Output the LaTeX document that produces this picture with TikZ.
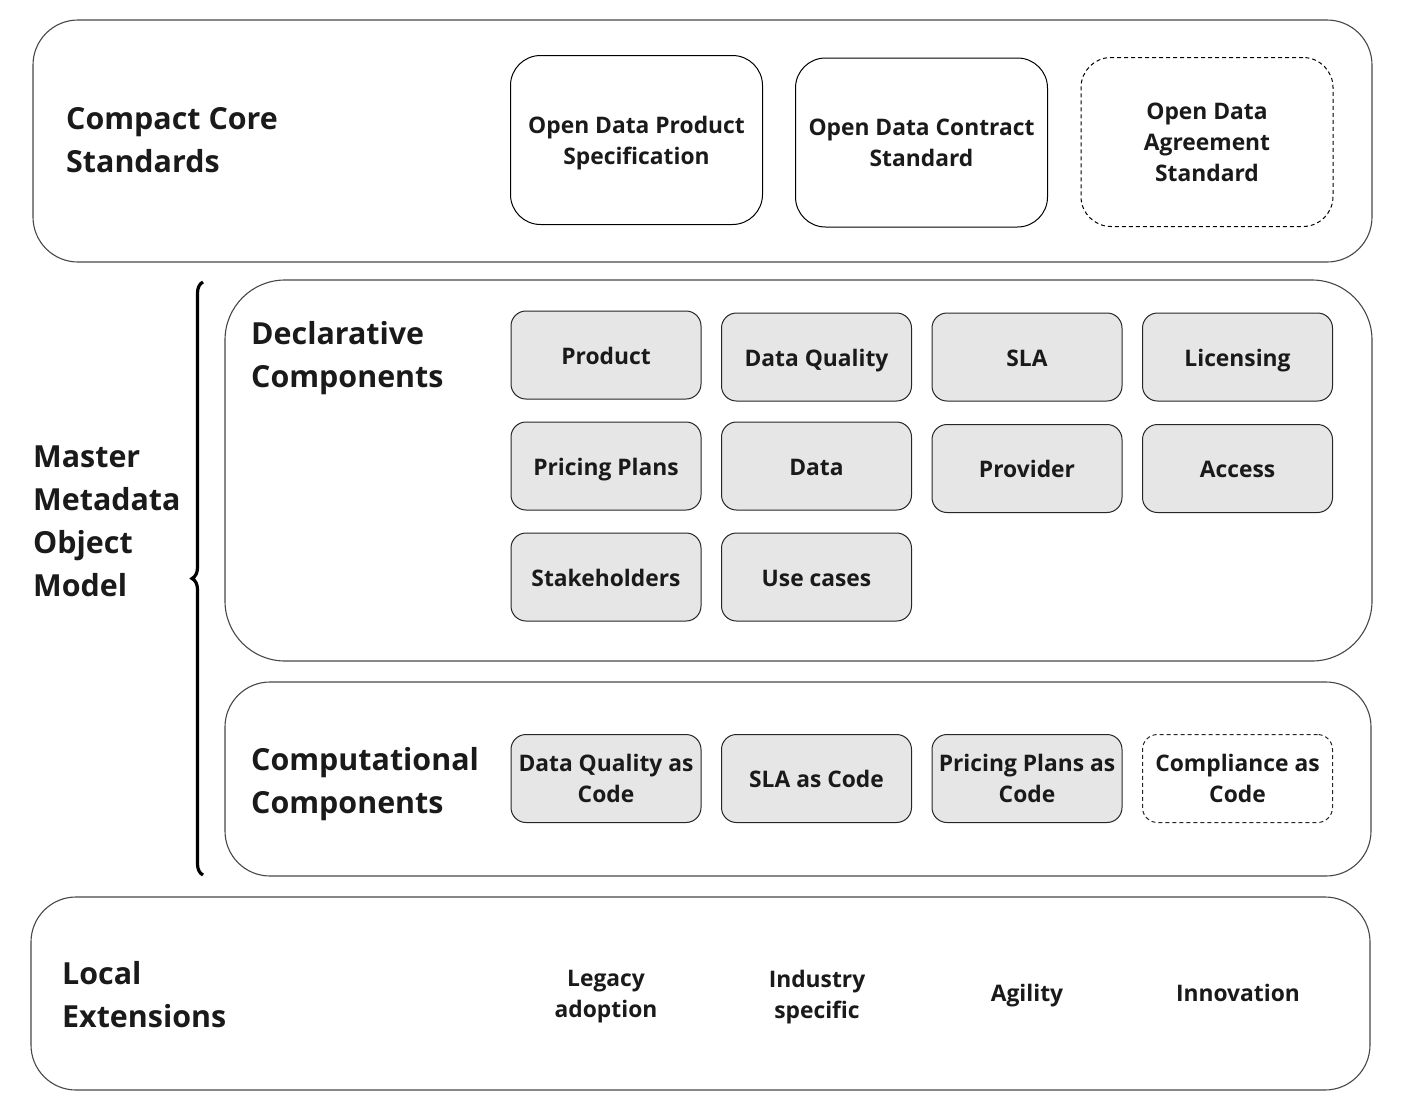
\documentclass[tikz,border=0pt]{standalone}
\usepackage{fontspec}
\setmainfont{Open Sans}
\usepackage{tikz}
\usetikzlibrary{positioning,decorations.pathreplacing}

\definecolor{compgray}{HTML}{E6E6E6}
\definecolor{inkblack}{HTML}{1A1A1A}
\newcommand{\titlefont}{\fontsize{30.4}{43}\selectfont\bfseries}
\newcommand{\boxfont}{\fontsize{22.8}{31}\selectfont\bfseries}

\begin{document}
\begin{tikzpicture}[x=1pt, y=-1pt, node distance=19.5pt, text=inkblack]
\tikzset{
  layer/.style={draw=black!72, line width=1.1pt, rounded corners=45pt},
  stdbox/.style={draw=black, line width=1pt, rounded corners=30pt, minimum width=252pt, minimum height=169pt, align=center, font=\boxfont},
  comp/.style={draw=black!85, line width=1pt, fill=compgray, rounded corners=15pt, minimum width=190pt, minimum height=88pt, inner sep=2pt, align=center, font=\boxfont},
  oneline/.style={text height=19pt, text depth=0.5pt},
  planned/.style={dash pattern=on 4pt off 3pt, fill=white},
  layertitle/.style={anchor=west, inner sep=0pt, align=left, font=\titlefont},
  ext/.style={align=center, font=\boxfont}
}
\useasboundingbox (0,0) rectangle (1401,1114);

% layers
\node[layer, minimum width=1339pt, minimum height=242pt] (core) at (702.5,141) {};
\node[layer, rounded corners=60pt, minimum width=1147pt, minimum height=381pt] (decl) at (798.5,470.5) {};
\node[layer, minimum width=1146pt, minimum height=194pt] (compu) at (798,779) {};
\node[layer, minimum width=1339pt, minimum height=193pt] (local) at (700.5,993.5) {};

% layer titles
\node[layertitle] (coretitle) at (66,140) {Compact Core\\Standards};
\node[layertitle] (mmom) at (33,521) {Master\\Metadata\\Object\\Model};
\node[layertitle] (decltitle) at (251,358) {Declarative\\Components};
\node[layertitle] (computitle) at (251,784) {Computational\\Components};
\node[layertitle] (localtitle) at (62,995) {Local\\Extensions};

\draw[line width=3.2pt, decorate, decoration={brace, amplitude=11pt}] (203,875) -- (203,282);

% core standards
\node[stdbox, text depth=0pt] (odps) at (636.5,140) {Open Data Product\\Specification};
\node[stdbox] (odcs) at (921.5,142.5) {Open Data Contract\\Standard};
\node[stdbox, planned] (odas) at (1207,142) {Open Data\\Agreement\\Standard};

% declarative components
\node[comp, oneline] (product) at (606,355) {Product};
\node[comp, oneline] (quality) [right=of product, yshift=-2pt] {Data Quality};
\node[comp, oneline] (sla)     [right=of quality] {SLA};
\node[comp, oneline] (licence) [right=of sla]     {Licensing};
\node[comp, oneline] (pricing) [below=22pt of product] {Pricing Plans};
\node[comp, oneline] (data)    [right=of pricing] {Data};
\node[comp, oneline] (provider)[right=of data, yshift=-2.5pt] {Provider};
\node[comp, oneline] (access)  [right=of provider]{Access};
\node[comp, oneline] (stake)   [below=22pt of pricing] {Stakeholders};
\node[comp, oneline] (usecase) [right=of stake]   {Use cases};

% computational components
\node[comp] (qcode) at (606,778.5) {Data Quality as\\Code};
\node[comp, oneline] (slacode)   [right=of qcode]   {SLA as Code};
\node[comp] (pricecode) [right=of slacode] {Pricing Plans as\\Code};
\node[comp, planned] (compcode) [right=of pricecode] {Compliance as\\Code};

% local extensions
\node[ext] (legacy) at (606,996.5) {Legacy\\adoption};
\node[ext] (industry) at (817,997.5) {Industry\\specific};
\node[ext, oneline] (agility) at (1027,992.5) {Agility};
\node[ext, oneline] (innov) at (1238,992.5) {Innovation};
\end{tikzpicture}
\end{document}
